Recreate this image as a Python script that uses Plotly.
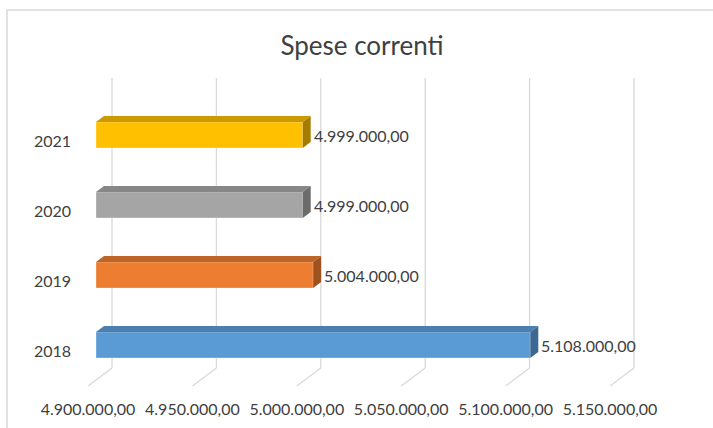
import plotly.graph_objects as go

# ---- data ----
years = ["2018", "2019", "2020", "2021"]
values = [5108000, 5004000, 4999000, 4999000]
front_colors = ["#5B9BD5", "#ED7D31", "#A5A5A5", "#FFC000"]
top_colors = ["#4A7FAF", "#BF6428", "#878787", "#CC9A00"]
side_colors = ["#3D6891", "#9E521F", "#6B6B6B", "#A57C00"]
tick_values = [4900000, 4950000, 5000000, 5050000, 5100000, 5150000]
title_text = "Spese correnti"

# ---- geometry (pixel scales of the chart) ----
W, H = 713, 428
L, R, T, B = 76, 700, 78, 386
KX = 104.4 / 50000.0          # px per value unit
KY = 70.0                      # px per category unit
AXMIN = tick_values[0]
FRONT_X0 = 88                  # pixel of AXMIN on the front plane
x_lo = AXMIN - (FRONT_X0 - L) / KX
x_hi = AXMIN + (R - FRONT_X0) / KX
y_lo = -0.5
y_hi = y_lo + (B - T) / KY
DX = 24 / KX                   # depth offset (value units)
DY = 18 / KY                   # depth offset (category units)
BAR_H = 26 / KY
WALL_TOP = y_hi - (T - 88) / KY


def fmt(v):
    s = f"{v:,.2f}"
    return s.replace(",", "X").replace(".", ",").replace("X", ".")


fig = go.Figure()
shapes = []

# back-wall gridlines and floor diagonals (drawn below the bars)
for t in tick_values:
    shapes.append(dict(type="line", xref="x", yref="y", x0=t + DX, x1=t + DX,
                       y0=y_lo + DY, y1=WALL_TOP, layer="below",
                       line=dict(color="#D9D9D9", width=1.3)))
    shapes.append(dict(type="line", xref="x", yref="y", x0=t + DX, x1=t,
                       y0=y_lo + DY, y1=y_lo, layer="below",
                       line=dict(color="#D9D9D9", width=1.3)))

# 3D bars
for i, (yr, v) in enumerate(zip(years, values)):
    c = i
    fx0 = AXMIN + DX / 3
    fx1 = v + DX / 3
    fy0 = c + DY / 3 - BAR_H / 2
    fy1 = c + DY / 3 + BAR_H / 2
    # front face
    fig.add_trace(go.Bar(orientation="h", y=[c + DY / 3], x=[v - AXMIN], base=[fx0],
                         width=BAR_H, marker=dict(color=front_colors[i],
                                                  line=dict(width=0.6, color="rgba(255,255,255,0.5)")),
                         hoverinfo="skip", showlegend=False))
    # top face
    fig.add_trace(go.Scatter(x=[fx0, fx1, fx1 + DX / 3, fx0 + DX / 3, fx0],
                             y=[fy1, fy1, fy1 + DY / 3, fy1 + DY / 3, fy1],
                             fill="toself", fillcolor=top_colors[i], mode="lines",
                             line=dict(width=0, color=top_colors[i]),
                             hoverinfo="skip", showlegend=False))
    # side face
    fig.add_trace(go.Scatter(x=[fx1, fx1 + DX / 3, fx1 + DX / 3, fx1, fx1],
                             y=[fy0, fy0 + DY / 3, fy1 + DY / 3, fy1, fy0],
                             fill="toself", fillcolor=side_colors[i], mode="lines",
                             line=dict(width=0, color=side_colors[i]),
                             hoverinfo="skip", showlegend=False))
    # data label
    fig.add_annotation(x=v + 2 * DX / 3, y=c + DY / 3, text=fmt(v), showarrow=False,
                       xanchor="left", yanchor="middle", xshift=1,
                       font=dict(family="Lato", size=16, color="#404040"))

# chart border
shapes.append(dict(type="rect", xref="paper", yref="paper",
                   x0=(7 - L) / (R - L), x1=(720 - L) / (R - L),
                   y0=(B - 440) / (B - T), y1=(B - 10) / (B - T),
                   line=dict(color="#D9D9D9", width=1.5), fillcolor="rgba(0,0,0,0)",
                   layer="below"))

fig.update_layout(
    width=W, height=H,
    margin=dict(l=L, r=W - R, t=T, b=H - B, pad=0),
    paper_bgcolor="white", plot_bgcolor="white",
    barmode="overlay",
    hovermode=False,
    title=dict(text=title_text, x=362 / W, xref="container", xanchor="center",
               y=1 - 46 / H, yref="container", yanchor="middle",
               font=dict(family="Lato", size=26, color="#404040")),
    xaxis=dict(range=[x_lo, x_hi], showgrid=False, zeroline=False, showline=False,
               tickvals=tick_values, ticktext=[fmt(t) for t in tick_values],
               ticks="", ticklabelstandoff=12, automargin=False,
               tickfont=dict(family="Lato", size=16, color="#404040")),
    yaxis=dict(range=[y_lo, y_hi], showgrid=False, zeroline=False, showline=False,
               tickvals=list(range(len(years))), ticktext=years,
               ticks="", ticklabelstandoff=4, automargin=False,
               tickfont=dict(family="Lato", size=16, color="#404040")),
    shapes=shapes,
)

fig.write_html("out.html", config={"displayModeBar": False, "staticPlot": True},
               post_script="document.body.style.margin='0px';")
